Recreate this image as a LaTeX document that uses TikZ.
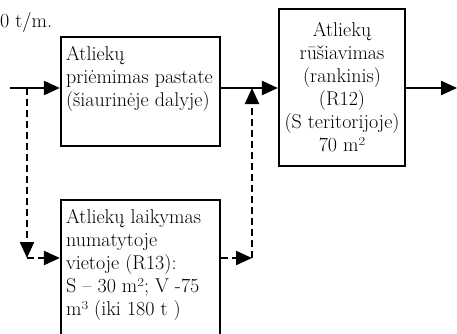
\documentclass[tikz,border=0pt]{standalone}
\usetikzlibrary{arrows.meta}

\tikzset{
  box/.style={draw, line width=2.2pt, rectangle, inner sep=0pt},
  boxtext/.style={align=left, inner xsep=6pt, inner ysep=8pt},
  flow/.style={line width=2.2pt, -{Triangle[length=16pt, width=14pt]}},
  dashflow/.style={flow, dash pattern=on 7pt off 4pt}
}

\begin{document}
\begin{tikzpicture}[x=1pt, y=-1pt, font=\fontsize{20pt}{23pt}\selectfont]

  \useasboundingbox (0,0) rectangle (457,333);
  \clip (0,0) rectangle (457,333);

  % Rate note (top left)
  \node[anchor=base west, inner sep=0pt] (rate) at (0,27) {0 t/m.};

  % Reception box
  \node[box, minimum width=159pt, minimum height=109pt] (receive) at (140.5,91.5) {};
  \node[boxtext, anchor=north west] (receivetxt) at (receive.north west)
    {\strut Atliekų\\priėmimas pastate\\(šiaurinėje dalyje)};

  % Sorting box
  \node[box, align=center, minimum width=126pt, minimum height=157pt] (sort) at (342,87.5)
    {Atliekų\\rūšiavimas\\(rankinis)\\(R12)\\(S teritorijoje)\\70 m²};

  % Storage box (runs off the bottom)
  \node[box, anchor=north, minimum width=159pt, minimum height=160pt] (store) at (140.5,199) {};
  \node[boxtext, anchor=north west] (storetxt) at (store.north west)
    {\strut Atliekų laikymas\\numatytoje\\vietoje (R13):\\S -- 30 m²; V -75\\m³ (iki 180 t )};

  % Corner points of the flow
  \coordinate (in) at (10,88);
  \coordinate (out) at (457,88);
  \coordinate (split) at (27,88);
  \coordinate (down) at (27,258);
  \coordinate (up) at (252,258);
  \coordinate (join) at (252,88);

  % Main flow line
  \draw[flow] (in) -- (in -| receive.west);
  \draw[flow] (in -| receive.east) -- (in -| sort.west);
  \draw[flow] (in -| sort.east) -- (out);

  % Detour through storage (dashed)
  \draw[dashflow] (split) -- (down);
  \draw[dashflow] (down) -- (down -| store.west);
  \draw[dashflow] (down -| store.east) -- (up);
  \draw[dashflow] (up) -- (join);

\end{tikzpicture}
\end{document}
